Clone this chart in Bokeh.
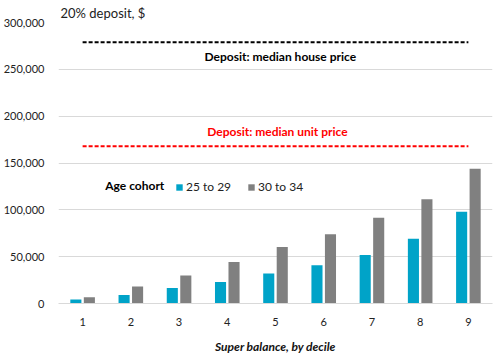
from bokeh.plotting import figure
from bokeh.models import (ColumnDataSource, FactorRange, Range1d, Legend, LegendItem,
                          Label, NumeralTickFormatter, FixedTicker)
from bokeh.transform import dodge
from bokeh.embed import file_html
from bokeh.resources import INLINE

deciles = ["1", "2", "3", "4", "5", "6", "7", "8", "9"]
age_25_29 = [4300, 9200, 16600, 23000, 32000, 40800, 51800, 69200, 98000]
age_30_34 = [6700, 18100, 29800, 44300, 60300, 73800, 91600, 111400, 143800]
house_deposit = 279000
unit_deposit = 168000
y_ticks = [0, 50000, 100000, 150000, 200000, 250000, 300000]

FONT = "Lato"
TEAL = "#00A3C8"
GREY = "#808080"

src = ColumnDataSource(dict(x=deciles, a=age_25_29, b=age_30_34))

p = figure(width=500, height=356, x_range=FactorRange(*deciles, range_padding=0),
           y_range=Range1d(0, 300000), output_backend="svg", toolbar_location=None,
           min_border_left=57, min_border_right=8, min_border_top=22, min_border_bottom=53)
p.outline_line_color = None
p.background_fill_color = "white"

p.title.text = "20% deposit, $"
p.title.text_font = FONT
p.title.text_font_size = "13px"
p.title.text_font_style = "normal"
p.title.text_color = "#222222"
p.title.align = "left"
p.title.offset = 2
p.title.standoff = 3

r1 = p.vbar(x=dodge("x", -0.14, range=p.x_range), top="a", width=0.23, source=src,
            fill_color=TEAL, line_color=None)
r2 = p.vbar(x=dodge("x", 0.14, range=p.x_range), top="b", width=0.23, source=src,
            fill_color=GREY, line_color=None)

p.line(x=[deciles[0], deciles[-1]], y=[house_deposit, house_deposit], line_color="black",
       line_width=2, line_dash="4 2")
p.line(x=[deciles[0], deciles[-1]], y=[unit_deposit, unit_deposit], line_color="#FF0000",
       line_width=2, line_dash="4 2")

# Labels on a categorical axis use synthetic coordinates (factor "1" centre = 0.5)
p.add_layout(Label(x=4.6, y=house_deposit, y_offset=-14, text="Deposit: median house price",
                   text_font=FONT, text_font_size="12px", text_font_style="bold",
                   text_color="black", text_align="center", text_baseline="middle"))
p.add_layout(Label(x=4.54, y=unit_deposit, y_offset=15, text="Deposit: median unit price",
                   text_font=FONT, text_font_size="12px", text_font_style="bold",
                   text_color="#FF0000", text_align="center", text_baseline="middle"))
p.add_layout(Label(x=0.97, y=126000, text="Age cohort", text_font=FONT,
                   text_font_size="12px", text_font_style="bold", text_color="black",
                   text_baseline="middle"))

legend = Legend(items=[LegendItem(label="25 to 29", renderers=[r1]),
                       LegendItem(label="30 to 34", renderers=[r2])],
                orientation="horizontal", location=(117, 109), padding=2, margin=0,
                spacing=16, label_standoff=3, glyph_width=8, glyph_height=8,
                border_line_color=None, background_fill_alpha=0,
                label_text_font=FONT, label_text_font_size="12px", label_text_color="#222222")
p.add_layout(legend)

p.yaxis.ticker = FixedTicker(ticks=y_ticks)
p.yaxis.formatter = NumeralTickFormatter(format="0,0")
p.yaxis.axis_line_color = None
p.yaxis.major_tick_line_color = None
p.yaxis.minor_tick_line_color = None
p.yaxis.major_label_text_font = FONT
p.yaxis.major_label_text_font_size = "11px"
p.yaxis.major_label_text_color = "#222222"
p.yaxis.major_label_standoff = 8

p.xaxis.axis_line_color = "#D9D9D9"
p.xaxis.major_tick_line_color = None
p.xaxis.major_label_text_font = FONT
p.xaxis.major_label_text_font_size = "11px"
p.xaxis.major_label_text_color = "#222222"
p.xaxis.major_label_standoff = 8
p.xaxis.axis_label = "Super balance, by decile"
p.xaxis.axis_label_text_font = FONT
p.xaxis.axis_label_text_font_size = "12px"
p.xaxis.axis_label_text_font_style = "bold italic"
p.xaxis.axis_label_text_color = "#111111"
p.xaxis.axis_label_standoff = 10

p.xgrid.grid_line_color = None
p.ygrid.grid_line_color = "#D9D9D9"
p.ygrid.grid_line_width = 1

open("out.html", "w").write(file_html(p, INLINE))
